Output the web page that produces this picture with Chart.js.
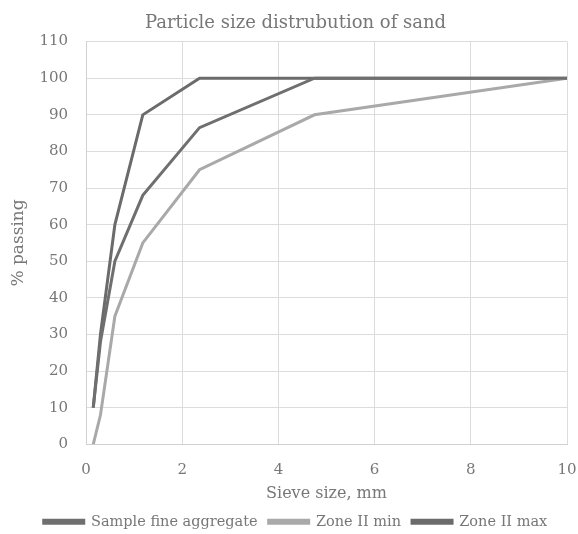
<!DOCTYPE html>
<html>
<head>
<meta charset="utf-8">
<script src="https://cdn.jsdelivr.net/npm/chart.js@4/dist/chart.umd.min.js"></script>
<style>
  html, body { margin: 0; padding: 0; background: #fff; overflow: hidden; }
  #wrap { width: 606px; height: 534px; position: relative; }
</style>
</head>
<body>
<div id="wrap"><canvas id="grading"></canvas></div>
<script>
(function () {
  'use strict'

  // sieve sizes in mm
  const sieves = [0.15, 0.3, 0.6, 1.18, 2.36, 4.75, 10];
  const sample = [10, 28, 50, 68, 86.5, 100, 100];
  const zoneMin = [0, 8, 35, 55, 75, 90, 100];
  const zoneMax = [10, 30, 60, 90, 100, 100, 100];
  const names = ["Sample fine aggregate", "Zone II min", "Zone II max"];

  const pts = (ys) => sieves.map((x, i) => ({ x: x, y: ys[i] }));
  const font = "'DejaVu Serif', 'Liberation Serif', serif";
  const txt = '#777777';

  const mk = (label, ys, col) => ({
    label: label,
    data: pts(ys),
    borderColor: col,
    backgroundColor: col,
    borderWidth: 3,
    pointRadius: 0,
    tension: 0
  });

  let ctx = document.getElementById("grading");
  new Chart(ctx, {
    type: 'line',
    data: {
      datasets: [
        mk(names[0], sample, '#6f6f6f'),
        mk(names[1], zoneMin, '#a9a9a9'),
        mk(names[2], zoneMax, '#6b6b6b')
      ]
    },
    options: {
      responsive: true,
      maintainAspectRatio: false,
      animation: false,
      layout: { padding: { left: 24, right: 39, top: 13, bottom: -5 } },
      scales: {
        x: {
          type: 'linear',
          min: 0, max: 10,
          ticks: { stepSize: 2, color: txt, font: { family: font, size: 15 }, padding: 17 },
          grid: { color: '#dcdcdc', drawTicks: false },
          border: { color: '#d0d0d0' },
          title: { display: true, text: 'Sieve size, mm', color: txt, font: { family: font, size: 16 }, padding: { top: -12, bottom: 0 } }
        },
        y: {
          min: 0, max: 110,
          ticks: { stepSize: 10, color: txt, font: { family: font, size: 15 }, padding: 18 },
          grid: { color: '#dcdcdc', drawTicks: false },
          border: { color: '#d0d0d0' },
          title: { display: true, text: '% passing', color: txt, font: { family: font, size: 17 }, padding: { top: -16, bottom: -7 } }
        }
      },
      plugins: {
        legend: {
          position: 'bottom',
          labels: {
            boxWidth: 40,
            boxHeight: 3,
            color: txt,
            padding: 11,
            font: { family: font, size: 14.5 }
          }
        },
        title: {
          display: true,
          text: 'Particle size distrubution of sand',
          color: txt,
          font: { family: font, size: 18, weight: 'normal' },
          padding: { top: 0, bottom: 7 }
        },
        tooltip: { enabled: false }
      }
    }
  });
})()
</script>
</body>
</html>
